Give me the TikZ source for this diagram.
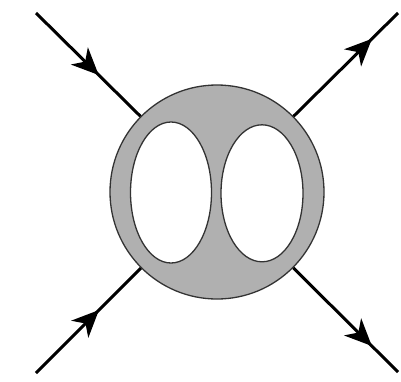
\documentclass[tikz,border=0pt]{standalone}
\usetikzlibrary{arrows.meta,decorations.markings}
\definecolor{blobgray}{gray}{0.69}
\begin{document}
\begin{tikzpicture}[x=1pt,y=-1pt,
    leg/.style={line width=3pt},
    arrowat/.style={postaction={decorate,decoration={markings,
        mark=at position #1 with {\arrow{Stealth[length=27pt,width=24pt,inset=8pt]}}}}}]
    \useasboundingbox (0,0) rectangle (401,381);

    % the blob with its two loops
    \node[circle,draw=black!80,line width=1.3pt,fill=blobgray,minimum size=214pt,inner sep=0pt] (blob) at (217,192) {};
    \draw[black!80,line width=1.3pt,fill=white] (171,192.5) ellipse [x radius=40.5pt,y radius=70.5pt];
    \draw[black!80,line width=1.3pt,fill=white] (262,193.3) ellipse [x radius=41pt,y radius=68.5pt];

    % external legs
    \coordinate (inA)  at (36,13);
    \coordinate (inB)  at (36,373);
    \coordinate (outA) at (398,13);
    \coordinate (outB) at (398,372);

    \draw[leg,arrowat=0.6]  (inA) -- (blob);
    \draw[leg,arrowat=0.6]  (inB) -- (blob);
    \draw[leg,arrowat=0.75] (blob) -- (outA);
    \draw[leg,arrowat=0.75] (blob) -- (outB);
\end{tikzpicture}
\end{document}
